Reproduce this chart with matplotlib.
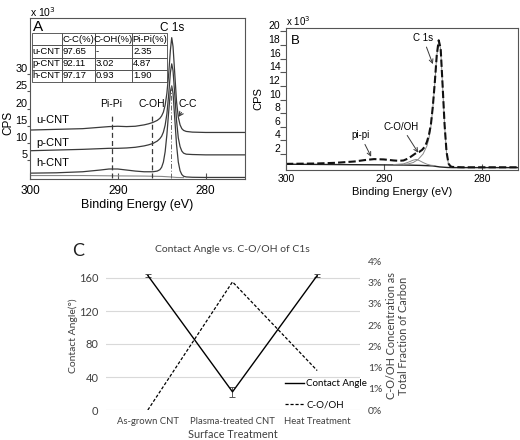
import matplotlib
matplotlib.use("Agg")
import matplotlib.pyplot as plt
from matplotlib.lines import Line2D

plt.rcParams['font.family'] = ['Liberation Sans', 'DejaVu Sans']

# ---- Panel A data: C1s spectra, offset stacked ----
energy_a = [300, 297, 294, 292, 291, 290, 289, 288, 287, 286.5, 286, 285.5, 285.2, 285.0,
            284.8, 284.6, 284.4, 284.2, 284.0, 283.85, 283.7, 283.5, 283.3, 283.1, 282.9,
            282.7, 282.5, 282.2, 281.5, 280, 278, 275.5]
u_cnt = [13.8, 14.0, 14.2, 14.6, 14.8, 14.9, 14.8, 14.9, 15.3, 15.6, 16.0, 16.6, 17.2, 17.9,
         19.0, 21.0, 24.5, 30.0, 37.0, 40.6, 38.0, 30.0, 22.0, 17.5, 15.3,
         14.2, 13.7, 13.4, 13.2, 13.1, 13.1, 13.1]
p_cnt = [7.8, 8.0, 8.2, 8.4, 8.5, 8.5, 8.6, 8.8, 9.2, 9.5, 9.9, 10.6, 11.3, 12.0,
         13.2, 15.2, 18.5, 24.0, 30.5, 33.0, 31.0, 24.0, 16.5, 11.5, 9.0,
         7.7, 7.1, 6.8, 6.7, 6.6, 6.6, 6.6]
h_cnt = [1.3, 1.4, 1.7, 2.2, 2.5, 2.5, 2.2, 1.9, 1.7, 1.7, 1.7, 1.9, 2.3, 3.0,
         4.5, 7.5, 12.5, 19.0, 25.0, 26.6, 24.5, 17.0, 9.5, 4.5, 2.0,
         0.9, 0.4, 0.2, 0.1, 0.05, 0.05, 0.05]
bg_a_energy = [300, 294, 290, 287, 285, 284, 283.3, 282.5]
bg_a = [0.6, 0.6, 0.5, 0.45, 0.35, 0.2, 0.05, 0.0]

table_cols = ['', 'C-C(%)', 'C-OH(%)', 'Pi-Pi(%)']
table_rows = [['u-CNT', '97.65', '-', '2.35'],
              ['p-CNT', '92.11', '3.02', '4.87'],
              ['h-CNT', '97.17', '0.93', '1.90']]

# ---- Panel B data: fitted p-CNT spectrum ----
energy_b = [300, 297, 295, 293, 292, 291, 290, 289, 288.5, 288, 287.5, 287, 286.7, 286.4,
            286.1, 285.8, 285.6, 285.4, 285.2, 285.0, 284.8, 284.6, 284.4, 284.2, 284.0,
            283.8, 283.6, 283.4, 283.2, 283.0, 282, 280, 276.3]
envelope_b = [0.55, 0.6, 0.7, 0.9, 1.1, 1.25, 1.2, 1.05, 1.0, 1.05, 1.35, 1.85, 2.15, 2.3,
              2.6, 3.1, 3.8, 4.8, 6.3, 9.0, 12.5, 16.5, 18.7, 17.5, 12.0,
              6.3, 2.3, 0.6, 0.2, 0.1, 0.05, 0.05, 0.05]
cc_energy_b = [288, 287.5, 287, 286.5, 286, 285.6, 285.4, 285.2, 285.0, 284.8, 284.6,
               284.4, 284.2, 284.0, 283.8, 283.6, 283.4, 283.2, 283.0]
cc_b = [0.45, 0.55, 0.75, 1.2, 2.0, 3.2, 4.3, 6.0, 8.8, 12.4, 16.4,
        18.6, 17.4, 11.9, 6.2, 2.2, 0.5, 0.15, 0.05]
coh_energy_b = [289, 288, 287.5, 287, 286.7, 286.4, 286, 285.6, 285.2, 284.8]
coh_b = [0.45, 0.55, 0.8, 1.1, 1.2, 1.05, 0.75, 0.5, 0.35, 0.3]
bg_b_energy = [300, 295, 290, 288, 286.3, 285, 284.3, 283.5, 283, 276.3]
bg_b = [0.5, 0.45, 0.4, 0.38, 0.33, 0.25, 0.1, 0.02, 0.0, 0.0]

# ---- Panel C data ----
treatments = ['As-grown CNT', 'Plasma-treated CNT', 'Heat Treatment']
contact_angle = [163, 22, 163]
contact_err = [1.5, 6, 1.5]
coh_pct = [0.0, 3.02, 0.93]
right_ticks = [0, 0.5, 1.0, 1.5, 2.0, 2.5, 3.0, 3.5]
right_labels = ['0%', '1%', '1%', '2%', '2%', '3%', '3%', '4%']

fig = plt.figure(figsize=(5.2, 4.4), dpi=100)
W, H = 520.0, 440.0

def px_axes(l, t, r, b):
    return fig.add_axes([l / W, 1 - b / H, (r - l) / W, (b - t) / H])

frame = '#555555'
curve = '#3a3a3a'

# ================= Panel A =================
axA = px_axes(30, 18, 245, 179)
axA.plot(energy_a, u_cnt, color=curve, lw=0.9)
axA.plot(energy_a, p_cnt, color=curve, lw=0.9)
axA.plot(energy_a, h_cnt, color=curve, lw=0.9)
axA.plot(bg_a_energy, bg_a, color='#888888', lw=0.8)
axA.plot([290.7, 290.7], [0, 18.8], ls=(0, (4, 2.5)), color=curve, lw=0.9)
axA.plot([286.1, 286.1], [0, 18.8], ls=(0, (4, 2.5)), color=curve, lw=0.9)
axA.plot([283.9, 283.9], [0, 27], ls=(0, (5, 2, 1, 2)), color='#666666', lw=0.7)
axA.set_xlim(300, 275.5)
axA.set_ylim(-0.4, 46.3)
axA.set_xticks([300, 290, 280])
axA.set_yticks([5, 10, 15, 20, 25, 30])
axA.tick_params(axis='x', direction='in', length=4, labelsize=8.5, pad=4, color=frame)
axA.tick_params(axis='y', direction='out', length=2, labelsize=7.8, pad=0, color=frame)
for lbl in axA.get_yticklabels():
    lbl.set_va('bottom')
for s in axA.spines.values():
    s.set_color(frame)
    s.set_linewidth(0.8)
axA.set_xlabel('Binding Energy (eV)', fontsize=9, labelpad=2)
axA.set_ylabel('CPS', fontsize=8.5)
axA.yaxis.set_label_coords(-0.074, 0.35)
axA.text(0.0, 0.995, r'x 10$^3$', transform=axA.transAxes, fontsize=7.5, va='bottom', ha='left')
axA.text(0.015, 0.985, 'A', transform=axA.transAxes, fontsize=11, va='top', ha='left')
axA.text(283.85, 41.8, 'C 1s', fontsize=8.5, ha='center', va='bottom')
axA.text(290.7, 20.0, 'Pi-Pi', fontsize=7.5, ha='center', va='bottom')
axA.text(286.1, 20.0, 'C-OH', fontsize=7.5, ha='center', va='bottom')
axA.annotate('C-C', xy=(283.1, 17.6), xytext=(282.0, 20.0), fontsize=7.5,
             ha='center', va='bottom',
             arrowprops=dict(arrowstyle='->', color=curve, lw=0.8, shrinkA=1, shrinkB=0))
axA.text(299.3, 16.7, 'u-CNT', fontsize=8, va='center', ha='left')
axA.text(299.3, 10.0, 'p-CNT', fontsize=8, va='center', ha='left')
axA.text(299.3, 4.2, 'h-CNT', fontsize=8, va='center', ha='left')
tbl = axA.table(cellText=table_rows, colLabels=table_cols, cellLoc='left',
                colWidths=[30, 33, 37, 35],
                bbox=[0.009, 0.602, 0.628, 0.305])
tbl.auto_set_font_size(False)
tbl.set_fontsize(6.8)
for cell in tbl.get_celld().values():
    cell.set_edgecolor('#444444')
    cell.set_linewidth(0.6)
    cell.PAD = 0.03

# ================= Panel B =================
axB = px_axes(286, 28, 518, 170)
axB.plot(bg_b_energy, bg_b, color='#222222', lw=1.0)
axB.plot(coh_energy_b, coh_b, color='#888888', lw=0.7)
axB.plot(cc_energy_b, cc_b, color='#888888', lw=0.7)
axB.plot(energy_b, envelope_b, color='#111111', lw=1.5, ls=(0, (3.5, 1.5)))
axB.set_xlim(300, 276.3)
axB.set_ylim(-0.35, 20.5)
axB.set_xticks([300, 290, 280])
axB.set_yticks([2, 4, 6, 8, 10, 12, 14, 16, 18, 20])
axB.tick_params(axis='x', direction='in', length=4, labelsize=7.5, pad=3, color=frame)
axB.tick_params(axis='y', direction='out', length=4, labelsize=7.5, pad=0, color=frame)
for lbl in axB.get_yticklabels():
    lbl.set_va('bottom')
for s in axB.spines.values():
    s.set_color(frame)
    s.set_linewidth(0.8)
axB.set_xlabel('Binding Energy (eV)', fontsize=8, labelpad=2)
axB.set_ylabel('CPS', fontsize=8, labelpad=4)
axB.text(0.0, 1.0, r'x 10$^3$', transform=axB.transAxes, fontsize=7, va='bottom', ha='left')
axB.text(0.02, 0.95, 'B', transform=axB.transAxes, fontsize=9.5, va='top', ha='left')
axB.annotate('C 1s', xy=(285.0, 15.2), xytext=(286.0, 18.3), fontsize=7,
             ha='center', va='bottom',
             arrowprops=dict(arrowstyle='->', color=curve, lw=0.7, shrinkA=1, shrinkB=0))
axB.annotate('C-O/OH', xy=(286.5, 2.2), xytext=(288.2, 5.3), fontsize=7,
             ha='center', va='bottom',
             arrowprops=dict(arrowstyle='->', color=curve, lw=0.7, shrinkA=1, shrinkB=0))
axB.annotate('pi-pi', xy=(291.3, 1.6), xytext=(292.4, 4.0), fontsize=7,
             ha='center', va='bottom',
             arrowprops=dict(arrowstyle='->', color=curve, lw=0.7, shrinkA=1, shrinkB=0))

# ================= Panel C =================
cfont = ['Lato', 'DejaVu Sans']
tick_col = '#404040'
axC = px_axes(105.5, 261.5, 359.5, 410)
x_pos = list(range(len(treatments)))
axC.set_xlim(-0.5, 2.5)
axC.set_ylim(0, 180)
axC.set_yticks([0, 40, 80, 120, 160])
axC.yaxis.grid(True, color='#d9d9d9', lw=0.8)
axC.set_axisbelow(True)
for s in axC.spines.values():
    s.set_visible(False)
axC.errorbar(x_pos, contact_angle, yerr=contact_err, color='black', lw=1.0,
             ecolor='#555555', elinewidth=0.7, capsize=2, capthick=0.7)
axC.set_xticks(x_pos)
axC.set_xticklabels(treatments, family=cfont, fontsize=6.8, color=tick_col)
for lbl in axC.get_yticklabels():
    lbl.set_family(cfont)
    lbl.set_fontsize(8)
    lbl.set_color(tick_col)
axC.tick_params(length=0, pad=5)
axC.set_ylabel('Contact Angle(°)', family=cfont, fontsize=7.5, color=tick_col, labelpad=1)
axC.set_xlabel('Surface Treatment', family=cfont, fontsize=7.8, color=tick_col, labelpad=2)
axC.set_title('Contact Angle vs. C-O/OH of C1s', family=cfont, fontsize=7.5,
              color=tick_col, pad=7)

axC2 = axC.twinx()
axC2.plot(x_pos, coh_pct, color='black', lw=0.9, ls=(0, (2.5, 1.5)))
axC2.set_ylim(0, 3.5)
axC2.set_yticks(right_ticks)
axC2.set_yticklabels(right_labels, family=cfont, fontsize=7.5, color=tick_col)
axC2.tick_params(length=0, pad=6)
for s in axC2.spines.values():
    s.set_visible(False)
axC2.set_ylabel('C-O/OH Concentration as\nTotal Fraction of Carbon', family=cfont,
                fontsize=7.8, color=tick_col, labelpad=3, linespacing=1.1)

legend_handles = [Line2D([], [], color='black', lw=1.0),
                  Line2D([], [], color='black', lw=0.9, ls=(0, (2.5, 1.5)))]
axC2.legend(legend_handles, ['Contact Angle', 'C-O/OH'], loc='lower right',
            bbox_to_anchor=(1.045, -0.02), frameon=False,
            prop={'family': cfont, 'size': 7}, handlelength=2.0,
            handletextpad=0.2, labelspacing=1.2, borderaxespad=0)

fig.text(78 / W, 1 - 251 / H, 'C', family=cfont, fontsize=13, va='center', ha='center',
         color='#222222')

fig.savefig('out.png', dpi=100)
